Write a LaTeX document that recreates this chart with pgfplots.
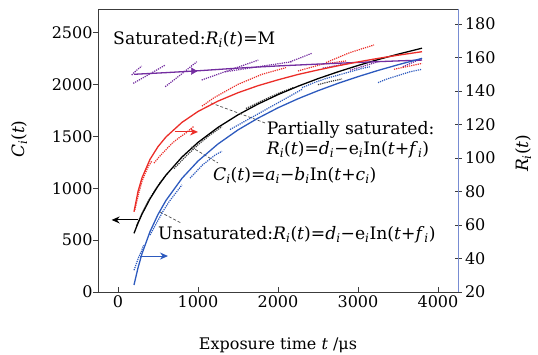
\documentclass[border=0pt]{standalone}
\usepackage{fontspec}
\setmainfont{DejaVu Serif}
\usepackage{pgfplots}
\pgfplotsset{compat=1.18}
\usetikzlibrary{arrows.meta}
\definecolor{cred}{RGB}{235,45,40}
\definecolor{cblue}{RGB}{45,90,190}
\definecolor{cpurp}{RGB}{115,45,160}
\definecolor{cax}{RGB}{60,60,60}
\definecolor{cright}{RGB}{120,140,210}
\newcommand{\sub}[1]{\textsubscript{\textit{#1}}}
\newcommand{\tfont}{\fontsize{17.2bp}{20bp}\selectfont}
\newcommand{\kfont}{\fontsize{16bp}{19bp}\selectfont}
\pgfplotsset{
  dat/.style={densely dotted, line width=1.2bp, forget plot},
  fit/.style={line width=1.3bp, forget plot},
}
\begin{document}
\begin{tikzpicture}
\begin{axis}[
  name=ax1,
  width=360bp, height=283bp, scale only axis,
  xmin=-250, xmax=4250, ymin=0, ymax=2730,
  xtick={0,1000,2000,3000,4000},
  ytick={0,500,1000,1500,2000,2500},
  xtick pos=lower, ytick pos=left,
  tick align=inside,
  major tick length=5bp,
  ytick style={xshift=-5bp},
  yticklabel style={xshift=-2bp},
  axis line style={cax, line width=0.8bp},
  tick style={cax, line width=0.8bp},
  scaled ticks=false,
  /pgf/number format/assume math mode=true,
  /pgf/number format/1000 sep={},
  tick label style={font=\kfont},
  label style={font=\kfont},
  xlabel={Exposure time \textit{t} /μs},
  xlabel style={at={(axis description cs:0.5,0)}, anchor=base, yshift=-57bp},
  clip=false,
]
% measured data (C)
\addplot[dat, black!75] coordinates {(230,640) (300,760) (380,880) (460,980) (540,1070) (620,1145)};
\addplot[dat, black!75] coordinates {(700,1190) (850,1310) (1000,1420) (1150,1515) (1300,1595)};
\addplot[dat, black!75] coordinates {(1600,1770) (1800,1845) (2000,1915) (2200,1975)};
\addplot[dat, black!75] coordinates {(2500,2000) (2650,2030) (2800,2055)};
% fit C
\addplot[fit, black] coordinates {
(200,566) (250,664) (300,751) (400,899) (500,1022) (600,1128) (800,1302)
(1000,1443) (1250,1588) (1500,1709) (1750,1813) (2000,1904) (2250,1985)
(2500,2058) (2750,2124) (3000,2185) (3250,2242) (3500,2294) (3800,2352)};
% arrows
\addplot[cred, line width=1bp, -{Stealth[length=8bp,width=7bp]}, forget plot] coordinates {(709,1544) (1000,1544)};
\addplot[black, line width=1bp, -{Stealth[length=8bp,width=7bp]}, forget plot] coordinates {(250,695) (-79,695)};
\addplot[cblue, line width=1bp, -{Stealth[length=8bp,width=7bp]}, forget plot] coordinates {(275,347) (625,347)};
% leaders
\addplot[densely dashed, black!70, line width=0.7bp, forget plot] coordinates {(1162,1824) (1838,1631)};
\addplot[densely dashed, black!70, line width=0.7bp, forget plot] coordinates {(912,1400) (1250,1245)};
\addplot[densely dashed, black!70, line width=0.7bp, forget plot] coordinates {(525,772) (787,666)};
% texts
\node[anchor=base west, font=\tfont, inner sep=0pt] at (axis cs:-62,2384) {Saturated:\textit{R}\sub{i}(\textit{t})=M};
\node[anchor=base west, font=\tfont, inner sep=0pt] at (axis cs:1859,1515) {Partially saturated:};
\node[anchor=base west, font=\tfont, inner sep=0pt] at (axis cs:1859,1322) {\textit{R}\sub{i}(\textit{t})=\textit{d}\sub{i}−e\sub{i}In(\textit{t}+\textit{f}\sub{i})};
\node[anchor=base west, font=\tfont, inner sep=0pt] at (axis cs:1187,1071) {\textit{C}\sub{i}(\textit{t})=\textit{a}\sub{i}−\textit{b}\sub{i}In(\textit{t}+\textit{c}\sub{i})};
\node[anchor=base west, font=\tfont, inner sep=0pt] at (axis cs:500,502) {Unsaturated:\textit{R}\sub{i}(\textit{t})=\textit{d}\sub{i}−e\sub{i}In(\textit{t}+\textit{f}\sub{i})};
\node[rotate=90, font=\fontsize{17bp}{20bp}\selectfont, anchor=center] at (rel axis cs:-0.219,0.54) {\textit{C}\sub{i}(\textit{t})};
\node[rotate=90, font=\fontsize{17bp}{20bp}\selectfont, anchor=center] at (rel axis cs:1.181,0.49) {\textit{R}\sub{i}(\textit{t})};
\end{axis}
\begin{axis}[
  name=ax2,
  width=360bp, height=283bp, scale only axis,
  xmin=-250, xmax=4250, ymin=20, ymax=189,
  axis x line=none, axis y line*=right,
  ytick={20,40,...,180},
  tick align=center,
  major tick length=7bp,
  y axis line style={cright, line width=0.8bp},
  tick style={cax, line width=0.8bp},
  /pgf/number format/assume math mode=true,
  tick label style={font=\kfont},
  clip=false,
]
% purple measured
\addplot[dat, cpurp] coordinates {(171,149.6) (230,152.3) (296,154.9)};
\addplot[dat, cpurp] coordinates {(190,144.6) (390,150.0) (590,155.5)};
\addplot[dat, cpurp] coordinates {(590,142.6) (790,150.0) (985,157.5)};
\addplot[dat, cpurp] coordinates {(1046,146.6) (1400,152.6) (1754,158.5)};
\addplot[dat, cpurp] coordinates {(1340,151.5) (1750,154.5) (2170,157.5)};
\addplot[dat, cpurp] coordinates {(2150,157.5) (2290,160.0) (2420,162.5)};
\addplot[dat, cpurp] coordinates {(2560,153.7) (2730,155.2) (2900,156.7)};
\addplot[dat, cpurp] coordinates {(2900,152.5) (3080,155.0) (3250,157.5)};
\addplot[dat, cpurp] coordinates {(3560,154.5) (3680,157.0) (3800,159.5)};
% red measured
\addplot[dat, cred] coordinates {(210,69) (240,75) (270,81) (300,86) (340,91) (380,95) (420,98)};
\addplot[dat, cred] coordinates {(450,97) (520,101) (600,105) (680,109) (760,112) (850,115) (950,119)};
\addplot[dat, cred] coordinates {(1050,131) (1200,136) (1350,140) (1500,144) (1650,147) (1800,150) (1950,152) (2100,154)};
\addplot[dat, cred] coordinates {(2250,152) (2400,154) (2550,156) (2700,157) (2850,158)};
\addplot[dat, cred] coordinates {(2600,157) (2700,159) (2800,161) (2900,163) (3000,164.5) (3100,166) (3200,167.5)};
\addplot[dat, cred] coordinates {(3450,153) (3550,154) (3650,155) (3750,156) (3800,156.5)};
% blue measured
\addplot[dat, cblue] coordinates {(200,33) (230,37) (260,41) (290,44) (320,48)};
\addplot[dat, cblue] coordinates {(400,54) (480,61) (560,68) (640,74) (720,79) (800,84)};
\addplot[dat, cblue] coordinates {(900,88) (980,92) (1060,96) (1140,99) (1220,102) (1300,104)};
\addplot[dat, cblue] coordinates {(1400,117) (1550,121) (1700,125) (1850,129) (2000,133) (2150,137) (2300,141)};
\addplot[dat, cblue] coordinates {(2300,142) (2450,145) (2600,147.5) (2750,149.5) (2900,151.5) (3050,153.5) (3150,154.5)};
\addplot[dat, cblue] coordinates {(3250,145) (3350,147) (3450,148.5) (3550,150) (3650,151.5) (3750,152.5) (3800,153)};
% fits
\addplot[fit, cpurp] coordinates {(200,150.0) (600,151.0) (1000,152.1) (1500,153.7) (2000,155.0) (2500,156.1) (3000,157.1) (3500,158.0) (3800,158.5)};
\addplot[cpurp, only marks, mark=triangle*, mark size=3.8bp, mark options={rotate=-90}, forget plot] coordinates {(940,151.9)};
\addplot[fit, cred] coordinates {
(200,67.9) (250,80.0) (300,88.2) (400,99.2) (500,106.8) (600,112.6) (800,121.3)
(1000,127.8) (1250,134.0) (1500,139.0) (1750,143.2) (2000,146.7) (2250,149.9)
(2500,152.6) (2750,155.1) (3000,157.4) (3250,159.5) (3500,161.4) (3800,163.5)};
\addplot[fit, cblue] coordinates {
(200,24.2) (250,34.4) (300,42.9) (400,56.0) (500,66.3) (600,74.7) (800,87.9)
(1000,98.2) (1250,108.4) (1500,116.8) (1750,123.8) (2000,130.0) (2250,135.4)
(2500,140.2) (2750,144.6) (3000,148.6) (3250,152.3) (3500,155.7) (3800,159.5)};
\end{axis}
\pgfresetboundingbox
\path (ax1.south west) ++(-98bp,-63bp) rectangle ++(538bp,355bp);
\end{tikzpicture}
\end{document}
